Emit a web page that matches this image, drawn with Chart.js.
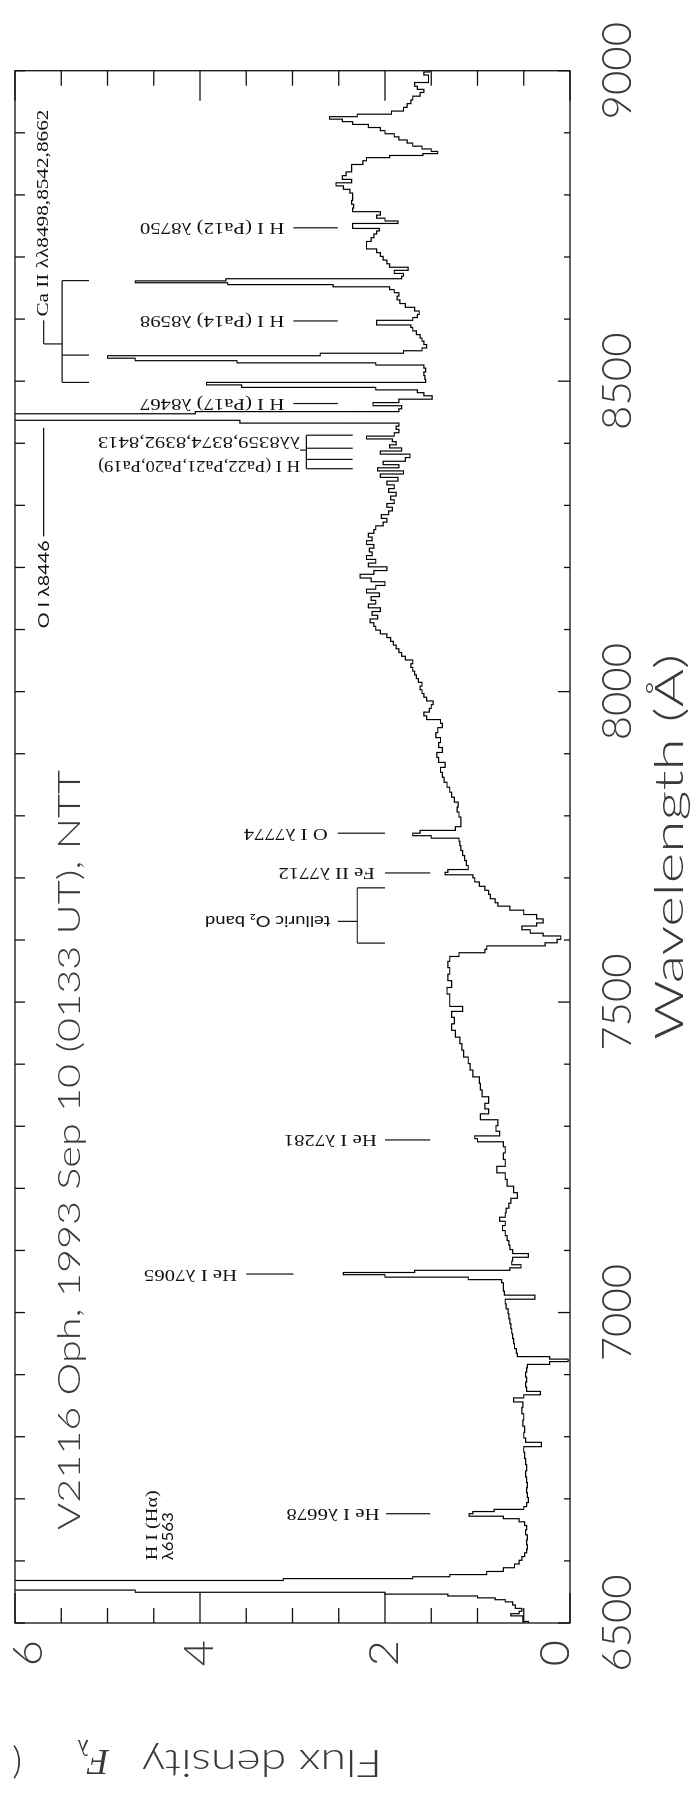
<!DOCTYPE html>
<html>
<head>
<meta charset="utf-8">
<script src="https://cdn.jsdelivr.net/npm/chart.js@4.4.1/dist/chart.umd.min.js"></script>
<style>
  html, body { margin: 0; padding: 0; background: #fff; overflow: hidden; }
  #wrap { position: relative; width: 695px; height: 1806px; overflow: hidden; }
  /* the figure is drawn landscape and turned a quarter turn counter-clockwise */
  #spec { position: absolute; left: 0; top: 0; width: 1806px; height: 695px;
          transform-origin: 0 0; transform: translate(0px, 1806px) rotate(-90deg); }
</style>
</head>
<body>
<div id="wrap"><canvas id="spec" width="1806" height="695"></canvas></div>
<script>
// ---- Spectrum (wavelength in Angstrom, flux density) ----
const wavelength = [
  6500, 6505, 6510, 6513, 6517, 6521, 6526, 6532, 6536, 6539, 6542, 6545, 6548, 6551, 6555, 6559, 6563, 6567,
  6570, 6573, 6576, 6580, 6586, 6592, 6598, 6604, 6610, 6616, 6622, 6630, 6638, 6646, 6654, 6660, 6666, 6670,
  6674, 6678, 6681, 6685, 6690, 6698, 6706, 6714, 6722, 6730, 6740, 6750, 6760, 6770, 6780, 6788, 6794, 6802,
  6812, 6822, 6832, 6842, 6852, 6860, 6865, 6870, 6876, 6884, 6892, 6900, 6908, 6914, 6919, 6923, 6927, 6931,
  6938, 6946, 6954, 6962, 6970, 6978, 6986, 6994, 7002, 7010, 7018, 7025, 7031, 7038, 7045, 7051, 7055, 7059,
  7063, 7066, 7070, 7074, 7080, 7086, 7092, 7098, 7105, 7112, 7120, 7128, 7136, 7144, 7150, 7157, 7164, 7172,
  7180, 7188, 7198, 7209, 7220, 7230, 7241, 7252, 7262, 7272, 7278, 7282, 7287, 7297, 7305, 7316, 7324, 7332,
  7342, 7353, 7364, 7374, 7385, 7396, 7406, 7417, 7428, 7438, 7449, 7460, 7470, 7481, 7489, 7497, 7508, 7518,
  7529, 7540, 7550, 7561, 7570, 7577, 7582, 7588, 7593, 7598, 7604, 7609, 7613, 7620, 7625, 7630, 7638, 7644,
  7652, 7657, 7663, 7670, 7677, 7683, 7690, 7697, 7703, 7707, 7711, 7716, 7724, 7732, 7740, 7748, 7756, 7762,
  7766, 7770, 7774, 7779, 7786, 7794, 7802, 7810, 7818, 7826, 7834, 7842, 7850, 7858, 7866, 7874, 7882, 7890,
  7898, 7906, 7914, 7922, 7930, 7938, 7946, 7952, 7958, 7964, 7970, 7976, 7982, 7988, 7994, 8000, 8006, 8012,
  8018, 8024, 8030, 8036, 8042, 8048, 8054, 8060, 8066, 8072, 8078, 8084, 8090, 8096, 8102, 8108, 8114, 8120,
  8126, 8132, 8138, 8144, 8150, 8156, 8162, 8168, 8174, 8180, 8186, 8192, 8198, 8204, 8210, 8216, 8222, 8228,
  8234, 8240, 8246, 8252, 8258, 8264, 8270, 8276, 8282, 8288, 8294, 8300, 8306, 8312, 8318, 8324, 8330, 8336,
  8342, 8348, 8353, 8358, 8363, 8368, 8374, 8380, 8385, 8390, 8395, 8400, 8405, 8409, 8414, 8420, 8425, 8430,
  8435, 8439, 8443, 8446, 8449, 8453, 8458, 8463, 8468, 8474, 8479, 8484, 8488, 8492, 8496, 8500, 8506, 8512,
  8518, 8524, 8528, 8531, 8535, 8539, 8543, 8547, 8551, 8556, 8562, 8567, 8572, 8578, 8584, 8589, 8592, 8596,
  8600, 8605, 8610, 8616, 8622, 8628, 8634, 8640, 8645, 8650, 8654, 8657, 8660, 8663, 8667, 8671, 8676, 8681,
  8686, 8692, 8698, 8704, 8710, 8716, 8722, 8728, 8734, 8740, 8744, 8748, 8752, 8756, 8760, 8765, 8770, 8776,
  8782, 8788, 8794, 8800, 8806, 8812, 8817, 8822, 8828, 8834, 8840, 8846, 8852, 8858, 8862, 8865, 8868, 8872,
  8876, 8881, 8886, 8891, 8896, 8901, 8906, 8911, 8916, 8920, 8924, 8928, 8932, 8938, 8944, 8950, 8956, 8962,
  8968, 8972, 8978, 8984, 8990, 8996, 9000
];
const flux = [
  0.45, 0.51, 0.51, 0.64, 0.55, 0.52, 0.59, 0.62, 0.70, 0.81, 1.00, 1.32, 2.00, 4.70, 8.0, 9.0, 9.0, 8.0,
  3.10, 1.70, 1.30, 0.90, 0.72, 0.60, 0.55, 0.52, 0.49, 0.47, 0.46, 0.47, 0.46, 0.48, 0.47, 0.49, 0.55, 0.72,
  1.09, 1.05, 0.82, 0.50, 0.47, 0.45, 0.46, 0.47, 0.46, 0.47, 0.48, 0.47, 0.48, 0.49, 0.50, 0.31, 0.48, 0.50,
  0.49, 0.51, 0.50, 0.52, 0.51, 0.61, 0.50, 0.32, 0.47, 0.48, 0.47, 0.48, 0.47, 0.46, 0.22, 0.02, 0.22, 0.57,
  0.58, 0.60, 0.61, 0.62, 0.63, 0.64, 0.65, 0.66, 0.67, 0.69, 0.70, 0.38, 0.71, 0.72, 0.72, 0.74, 1.10, 2.00,
  2.45, 1.68, 0.65, 0.53, 0.63, 0.62, 0.45, 0.62, 0.65, 0.66, 0.68, 0.70, 0.73, 0.70, 0.76, 0.70, 0.69, 0.66,
  0.64, 0.57, 0.61, 0.68, 0.70, 0.79, 0.70, 0.72, 0.70, 0.72, 1.00, 1.03, 0.76, 0.80, 0.78, 0.97, 0.88, 0.92,
  0.88, 0.95, 0.97, 0.98, 1.05, 1.08, 1.10, 1.15, 1.17, 1.19, 1.24, 1.28, 1.25, 1.28, 1.16, 1.30, 1.30, 1.33,
  1.28, 1.32, 1.30, 1.32, 1.30, 1.20, 0.92, 0.90, 0.27, 0.14, 0.10, 0.29, 0.43, 0.52, 0.36, 0.29, 0.36, 0.50,
  0.65, 0.78, 0.81, 0.86, 0.88, 0.92, 0.98, 1.03, 1.05, 1.35, 1.32, 1.10, 1.12, 1.14, 1.16, 1.18, 1.19, 1.20,
  1.50, 1.70, 1.62, 1.24, 1.18, 1.18, 1.20, 1.22, 1.21, 1.25, 1.28, 1.30, 1.33, 1.36, 1.38, 1.40, 1.35, 1.42,
  1.44, 1.38, 1.42, 1.40, 1.45, 1.43, 1.38, 1.40, 1.55, 1.58, 1.52, 1.50, 1.48, 1.55, 1.58, 1.60, 1.62, 1.60,
  1.64, 1.66, 1.68, 1.70, 1.72, 1.70, 1.78, 1.82, 1.85, 1.88, 1.91, 1.94, 1.98, 2.05, 2.10, 2.12, 2.16, 2.08,
  2.14, 2.05, 2.18, 2.10, 2.15, 2.06, 2.20, 2.10, 2.00, 2.15, 2.27, 2.12, 1.98, 2.18, 2.10, 2.20, 2.14, 2.17,
  2.12, 2.20, 2.14, 2.18, 2.12, 2.10, 2.02, 1.98, 2.04, 1.96, 1.92, 1.98, 1.90, 1.94, 1.88, 1.96, 1.90, 1.98,
  1.86, 2.05, 1.80, 2.08, 1.85, 2.02, 1.78, 1.73, 2.05, 1.82, 1.95, 1.88, 1.92, 2.20, 1.90, 1.85, 1.88, 1.85,
  3.57, 8.5, 10.0, 8.5, 4.05, 1.85, 1.82, 2.13, 1.85, 1.49, 1.58, 1.65, 2.10, 3.55, 3.93, 1.56, 1.57, 1.58,
  1.56, 1.58, 2.10, 3.60, 4.70, 5.00, 2.70, 1.80, 1.60, 1.55, 1.58, 1.60, 1.62, 1.66, 1.70, 1.72, 2.09, 2.09,
  1.70, 1.65, 1.63, 1.68, 1.78, 1.84, 1.87, 1.85, 1.90, 1.95, 2.56, 3.70, 4.70, 3.72, 1.82, 1.80, 1.90, 1.75,
  1.95, 1.98, 2.02, 2.05, 2.09, 2.20, 2.20, 2.15, 2.12, 2.09, 2.06, 2.35, 2.35, 1.86, 2.00, 2.09, 2.05, 2.35,
  2.34, 2.36, 2.35, 2.35, 2.38, 2.45, 2.53, 2.36, 2.46, 2.42, 2.36, 2.36, 2.24, 2.20, 1.95, 1.59, 1.43, 1.50,
  1.60, 1.70, 1.76, 1.85, 1.90, 2.00, 2.05, 2.18, 2.35, 2.46, 2.60, 2.30, 1.93, 1.80, 1.76, 1.72, 1.70, 1.62,
  1.58, 1.65, 1.68, 1.53, 1.53, 1.58, 1.52
];

// ---- Axes ----
const waveMin = 6500, waveMax = 9000, waveMajor = 500, waveMinor = 100;
const fluxMin = 0, fluxMax = 6, fluxMajor = 2, fluxMinor = 0.5;

// ---- Texts ----
const titleText = 'V2116 Oph, 1993 Sep 10 (0133 UT), NTT';
const xTitle = 'Wavelength (Å)';
const lineLabels = ['He I λ6678', 'He I λ7065', 'He I λ7281', 'Fe II λ7712', 'O I λ7774',
  'H I (Pa17) λ8467', 'H I (Pa14) λ8598', 'H I (Pa12) λ8750'];
const lineWaves = [6676, 7062, 7278, 7708, 7772, 8464, 8597, 8747];
const paschenWaves = [8359, 8374, 8392, 8413];
const paschenLabels = ['H I (Pa22,Pa21,Pa20,Pa19)', 'λλ8359,8374,8392,8413'];
const caWaves = [8498, 8542, 8662];
const caLabel = 'Ca II λλ8498,8542,8662';
const tellWaves = [7595, 7630, 7684];
const tellLabel = 'telluric O₂ band';
const oiLabel = 'O I λ8446';
const oiWave = 8446;
const haLabels = ['H I (Hα)', 'λ6563'];

// placement of the marker lines (in flux units): [line start, line end, text start]
const lineLayout = [
  [1.51, 1.99, 2.06], [2.99, 3.50, 3.60], [1.51, 2.00, 2.09], [1.51, 2.00, 2.11],
  [2.00, 2.51, 2.62], [2.51, 2.99, 3.09], [2.51, 2.99, 3.09], [2.51, 2.99, 3.09]
];

const SANS = '"Lato", "Roboto", sans-serif';
const SERIF = '"Liberation Serif", "DejaVu Serif", serif';
const THIN = '300 ';
const INK = '#3a3a3a';

function drawText(ctx, text, px, py, opts) {
  ctx.save();
  ctx.translate(px, py);
  if (opts.vertical) ctx.rotate(-Math.PI / 2);
  ctx.font = opts.font;
  let sx = opts.stretch || 1;
  if (opts.width) sx = opts.width / ctx.measureText(text).width;
  ctx.scale(sx, 1);
  ctx.textAlign = opts.align || 'left';
  ctx.textBaseline = opts.baseline || 'middle';
  ctx.fillText(text, 0, 0);
  ctx.restore();
}

const figurePlugin = {
  id: 'figure',
  afterDraw(chart) {
    const { ctx, chartArea: a, scales: { x, y } } = chart;
    const X = v => x.getPixelForValue(v);
    const Y = v => y.getPixelForValue(v);
    const seg = (x1, y1, x2, y2) => { ctx.beginPath(); ctx.moveTo(x1, y1); ctx.lineTo(x2, y2); ctx.stroke(); };

    ctx.save();
    ctx.strokeStyle = '#111';
    ctx.fillStyle = INK;
    ctx.lineWidth = 1.3;
    ctx.strokeRect(a.left, a.top, a.right - a.left, a.bottom - a.top);

    // tick marks, pointing inwards
    for (let w = waveMin; w <= waveMax; w += waveMinor) {
      const px = X(w);
      seg(px, a.bottom, px, a.bottom - (w % waveMajor === 0 ? 12 : 6));
      seg(px, a.top, px, a.top + 10);
    }
    for (let f = fluxMin; f <= fluxMax; f += fluxMinor) {
      const py = Y(f);
      const len = f % fluxMajor === 0 ? 30 : 15;
      seg(a.left, py, a.left + len, py);
      seg(a.right, py, a.right - len, py);
    }

    // flux tick labels, kept inside the frame height
    for (let f = fluxMin; f <= fluxMax; f += fluxMajor) {
      const py = Math.min(Math.max(Y(f), a.top + 14), a.bottom - 14);
      drawText(ctx, String(f), a.left - 17, py, { font: THIN + '41px ' + SANS, align: 'right', stretch: 1.1 });
    }

    // title and axis titles
    drawText(ctx, titleText, 276, 80, { font: THIN + '32px ' + SANS, width: 760, baseline: 'alphabetic' });
    drawText(ctx, xTitle, (a.left + a.right) / 2, 683,
      { font: THIN + '39px ' + SANS, width: 386, align: 'center', baseline: 'alphabetic' });
    drawText(ctx, 'Flux density', 56, 382, { font: THIN + '38px ' + SANS, width: 240, vertical: true, baseline: 'alphabetic' });
    drawText(ctx, 'F', 56, 109, { font: 'italic 36px ' + SERIF, vertical: true, baseline: 'alphabetic' });
    drawText(ctx, 'λ', 66, 89, { font: '24px ' + SERIF, vertical: true, baseline: 'alphabetic' });
    drawText(ctx, '(', 56, 22, { font: THIN + '38px ' + SANS, vertical: true, baseline: 'alphabetic' });

    // single line identifications
    ctx.fillStyle = '#111';
    ctx.lineWidth = 1.2;
    const serifLbl = { font: '17px ' + SERIF, stretch: 1.22, vertical: true };
    lineLabels.forEach((t, i) => {
      const px = X(lineWaves[i]);
      const [f0, f1, ft] = lineLayout[i];
      seg(px, Y(f0), px, Y(f1));
      drawText(ctx, t, px, Y(ft), serifLbl);
    });

    // Paschen series group
    paschenWaves.forEach(w => seg(X(w), Y(2.35), X(w), Y(2.85)));
    seg(X(paschenWaves[0]), Y(2.85), X(paschenWaves[3]), Y(2.85));
    seg(X(8389), Y(2.85), X(8389), Y(2.92));
    drawText(ctx, paschenLabels[0], X(8364), Y(2.92), { font: '16px ' + SERIF, stretch: 1.15, vertical: true });
    drawText(ctx, paschenLabels[1], X(8403), Y(2.92), { font: '16px ' + SERIF, stretch: 1.3, vertical: true });

    // telluric band bracket
    seg(X(tellWaves[0]), Y(2.0), X(tellWaves[0]), Y(2.30));
    seg(X(tellWaves[2]), Y(2.0), X(tellWaves[2]), Y(2.30));
    seg(X(tellWaves[0]), Y(2.30), X(tellWaves[2]), Y(2.30));
    seg(X(tellWaves[1]), Y(2.30), X(tellWaves[1]), Y(2.51));
    drawText(ctx, tellLabel, X(tellWaves[1]), Y(2.59), { font: '16px ' + SANS, stretch: 1.15, vertical: true });

    // Ca II triplet bracket
    seg(X(caWaves[0]), Y(5.49), X(caWaves[2]), Y(5.49));
    caWaves.forEach(w => seg(X(w), Y(5.49), X(w), Y(5.20)));
    seg(X(8560), Y(5.49), X(8560), Y(5.69));
    seg(X(8560), Y(5.69), X(8598), Y(5.69));
    drawText(ctx, caLabel, X(8604), Y(5.69), { font: '16px ' + SERIF, width: 207 });

    // O I 8446 (its peak runs off the top)
    drawText(ctx, oiLabel, X(8102), Y(5.69), { font: '16px ' + SANS, width: 88 });
    seg(X(8250), Y(5.69), X(8425), Y(5.69));

    // H alpha label
    drawText(ctx, haLabels[0], X(6601), Y(4.46), { font: '17px ' + SERIF, width: 70, baseline: 'alphabetic' });
    drawText(ctx, haLabels[1], X(6601), Y(4.29), { font: '16px ' + SANS, width: 48, baseline: 'alphabetic' });
    ctx.restore();
  }
};

new Chart(document.getElementById('spec'), {
  type: 'line',
  data: {
    datasets: [{
      data: wavelength.map((w, i) => ({ x: w, y: flux[i] })),
      stepped: 'middle',
      borderColor: '#000',
      borderWidth: 1.2,
      pointRadius: 0,
      fill: false
    }]
  },
  options: {
    responsive: false,
    animation: false,
    devicePixelRatio: 1,
    layout: { padding: { top: 15, right: 61, left: 0, bottom: 0 } },
    plugins: { legend: { display: false }, tooltip: { enabled: false } },
    scales: {
      x: {
        type: 'linear', min: waveMin, max: waveMax,
        afterFit: s => { s.height = 125; },
        grid: { display: false, drawTicks: false },
        border: { display: false },
        ticks: { stepSize: waveMajor, autoSkip: false, maxRotation: 0, padding: 22, color: INK,
                 callback: v => String(v),
                 font: { family: SANS, weight: 300, size: 42 } }
      },
      y: {
        type: 'linear', min: fluxMin, max: fluxMax,
        afterFit: s => { s.width = 183; },
        grid: { display: false, drawTicks: false },
        border: { display: false },
        ticks: { display: false, stepSize: fluxMajor }
      }
    }
  },
  plugins: [figurePlugin]
});
</script>
</body>
</html>
